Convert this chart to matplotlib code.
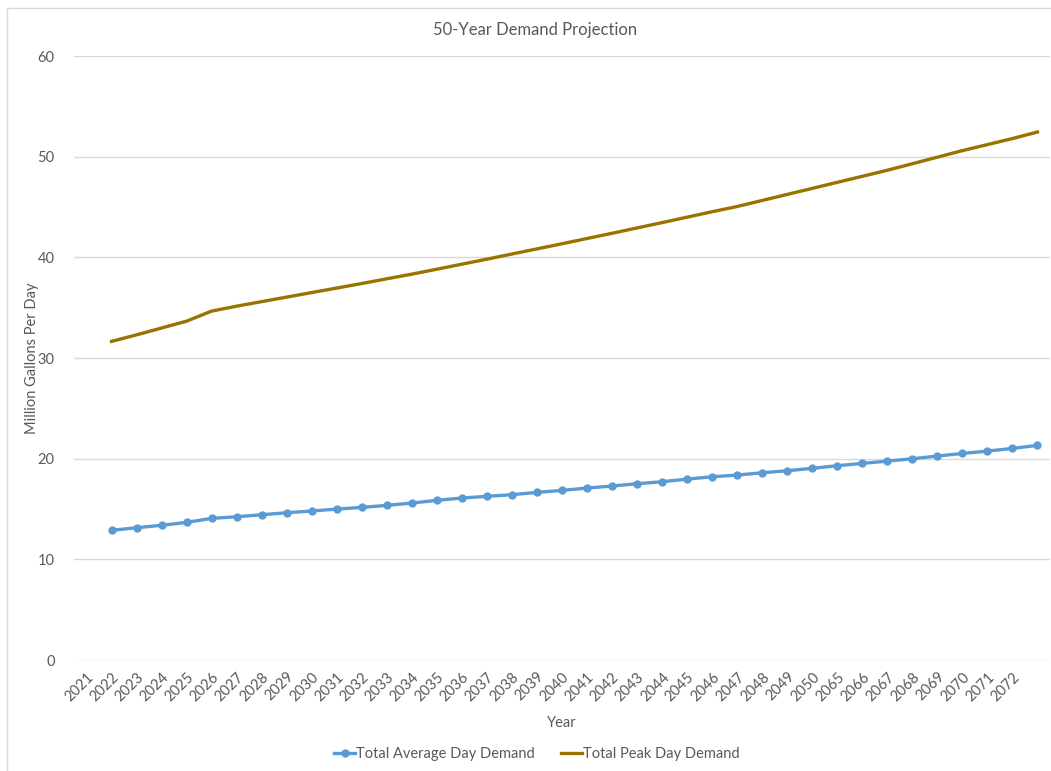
import numpy as np
import matplotlib.pyplot as plt
from matplotlib.patches import Rectangle

plt.rcParams['font.family'] = ['Lato', 'DejaVu Sans']

# category axis (the last slot carries no label)
years = [str(y) for y in range(2021, 2051)] + [str(y) for y in range(2065, 2073)]
categories = years + ['']

avg_demand = [12.88, 13.14, 13.38, 13.67, 14.07, 14.23, 14.43, 14.63, 14.80, 14.99,
              15.16, 15.36, 15.59, 15.86, 16.09, 16.26, 16.42, 16.65, 16.85, 17.08,
              17.28, 17.51, 17.71, 17.97, 18.20, 18.37, 18.60, 18.80, 19.04, 19.30,
              19.53, 19.76, 19.99, 20.26, 20.52, 20.75, 21.02, 21.32]
peak_demand = [31.65, 32.30, 32.98, 33.66, 34.66, 35.15, 35.60, 36.05, 36.50, 36.95,
               37.40, 37.87, 38.33, 38.82, 39.32, 39.82, 40.33, 40.84, 41.35, 41.87,
               42.39, 42.92, 43.45, 43.99, 44.53, 45.05, 45.65, 46.25, 46.85, 47.45,
               48.05, 48.65, 49.30, 49.95, 50.60, 51.20, 51.80, 52.45]

# series start one slot after the first category
x = np.arange(1, len(avg_demand) + 1)

W, H = 1051, 771
fig = plt.figure(figsize=(W / 100, H / 100), dpi=100)
fig.patches.append(Rectangle((7 / W, -0.1), 1.2, (H - 8) / H + 0.1,
                             transform=fig.transFigure, fill=False,
                             edgecolor='#D9D9D9', linewidth=1))

ax = fig.add_axes([74 / W, (H - 660) / H, (1050 - 74) / W, (660 - 56) / H])

grey = '#595959'
ax.plot(x, avg_demand, color='#5B9BD5', linewidth=2.4, marker='o',
        markersize=5, label='Total Average Day Demand', zorder=3)
ax.plot(x, peak_demand, color='#997300', linewidth=2.4,
        label='Total Peak Day Demand', zorder=3)

ax.set_xlim(-0.5, len(categories) - 0.5)
ax.set_ylim(0, 60)
ax.set_yticks(range(0, 61, 10))
ax.set_xticks(range(len(categories)))
ax.set_xticklabels(categories, rotation=45, ha='right', rotation_mode='anchor')
ax.tick_params(axis='both', length=0, colors=grey, labelsize=10.5)
ax.tick_params(axis='x', pad=7)
ax.tick_params(axis='y', pad=14)
ax.grid(axis='y', color='#D9D9D9', linewidth=1)
ax.set_axisbelow(True)
for s in ax.spines.values():
    s.set_visible(False)

ax.set_xlabel('Year', color=grey, fontsize=10.5, labelpad=9)
ax.set_ylabel('Million Gallons Per Day', color=grey, fontsize=10.5, labelpad=-1)
fig.text(535 / W, 1 - 30 / H, '50-Year Demand Projection', ha='center',
         va='center', color=grey, fontsize=12)

fig.legend(loc='center', bbox_to_anchor=(537 / W, 1 - 754 / H), ncol=2,
           frameon=False, fontsize=10.5, labelcolor=grey, handlelength=1.4,
           handletextpad=0.1, columnspacing=1.8)

fig.savefig('out.png', dpi=100)
